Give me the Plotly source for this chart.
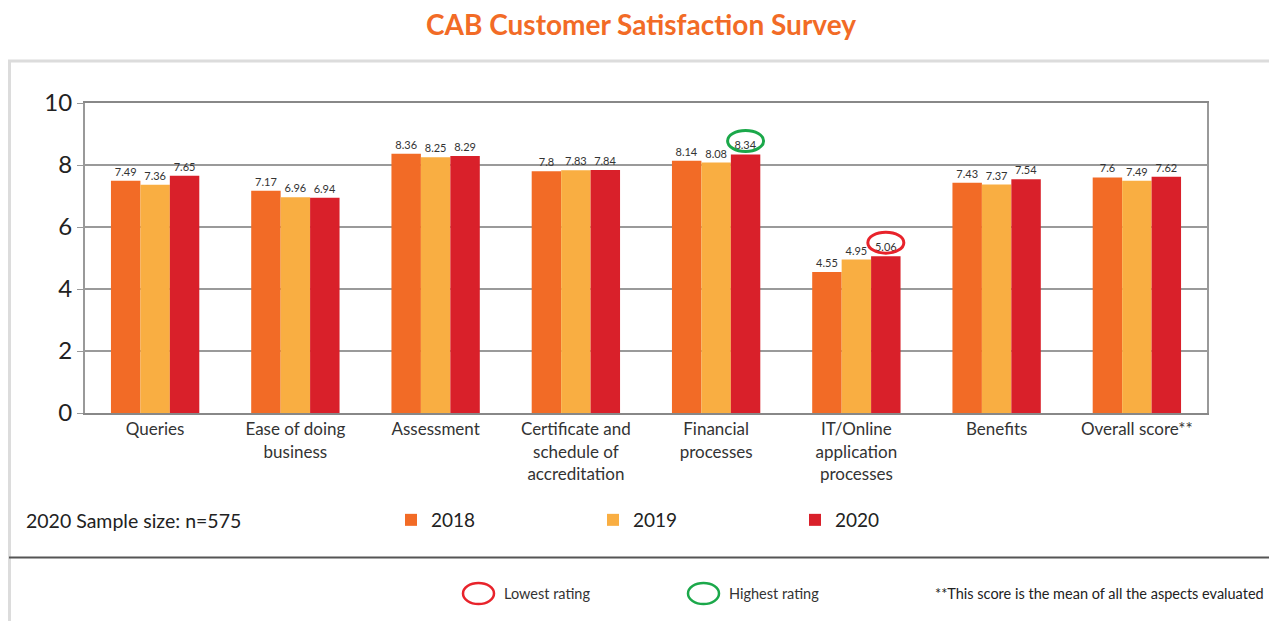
import plotly.graph_objects as go

categories = ["Queries", "Ease of doing<br>business", "Assessment",
              "Certificate and<br>schedule of<br>accreditation", "Financial<br>processes",
              "IT/Online<br>application<br>processes", "Benefits", "Overall score**"]
years = ["2018", "2019", "2020"]
v2018 = [7.49, 7.17, 8.36, 7.8, 8.14, 4.55, 7.43, 7.6]
v2019 = [7.36, 6.96, 8.25, 7.83, 8.08, 4.95, 7.37, 7.49]
v2020 = [7.65, 6.94, 8.29, 7.84, 8.34, 5.06, 7.54, 7.62]
colors = ["#F26B26", "#F9AE42", "#D9202A"]
y_ticks = [0, 2, 4, 6, 8, 10]

highest = (4, v2020[4])  # Financial processes, 2020
lowest = (5, v2020[5])   # IT/Online, 2020

FONT = "Lato"
OFF = 8  # page body margin
W, H = 1277 - OFF, 621 - OFF
L, T = 85 - OFF, 103 - OFF
PB = 413 - OFF  # plot bottom in figure px
PR = 1207 - OFF
R, B = W - PR, H - PB
plot_h = PB - T
plot_w = PR - L


def py(pix_y):  # reference pixel -> paper
    return (PB - (pix_y - OFF)) / plot_h


def px(pix_x):
    return ((pix_x - OFF) - L) / plot_w


fig = go.Figure()
for name, vals, c in zip(years, [v2018, v2019, v2020], colors):
    fig.add_trace(go.Bar(
        x=list(range(len(categories))), y=vals, name=name, marker_color=c,
        marker_line_width=0,
        text=[str(v) for v in vals], textposition="outside",
        textfont=dict(size=11, color="#333333", family=FONT),
        cliponaxis=False,
    ))

bargap = 0.37
bw = (1 - bargap) / 3

shapes = [
    dict(type="rect", xref="paper", yref="paper", x0=px(9.5), x1=px(1275.5), y0=py(650), y1=py(61),
         line=dict(color="#DCDCDC", width=3), fillcolor="rgba(0,0,0,0)", layer="below"),
    dict(type="line", xref="paper", yref="paper", x0=px(9), x1=px(1275), y0=py(557.5), y1=py(557.5),
         line=dict(color="#555555", width=2)),
    dict(type="circle", xref="paper", yref="paper", x0=px(463), x1=px(494), y0=py(604), y1=py(583),
         line=dict(color="#E8232B", width=2.5)),
    dict(type="circle", xref="paper", yref="paper", x0=px(688), x1=px(719), y0=py(604), y1=py(583),
         line=dict(color="#1BA84A", width=2.5)),
]
for (idx, val), col in [(highest, "#1BA84A"), (lowest, "#E8232B")]:
    shapes.append(dict(type="circle", xref="x", yref="y", xsizemode="pixel", ysizemode="pixel",
                       xanchor=idx + bw, yanchor=val, x0=-18, x1=18, y0=3, y1=24,
                       line=dict(color=col, width=3)))

ann = [
    dict(text="<b>CAB Customer Satisfaction Survey</b>", x=px(641), y=py(24),
         xanchor="center", font=dict(size=28, color="#F26B26", family=FONT)),
    dict(text="2020 Sample size: n=575", x=px(24), y=py(520),
         xanchor="left", font=dict(size=19.5, color="#222222", family=FONT)),
    dict(text="Lowest rating", x=px(502), y=py(593),
         xanchor="left", font=dict(size=14.5, color="#333333", family=FONT)),
    dict(text="Highest rating", x=px(727), y=py(593),
         xanchor="left", font=dict(size=14.5, color="#333333", family=FONT)),
    dict(text="**This score is the mean of all the aspects evaluated", x=px(1266), y=py(593),
         xanchor="right", font=dict(size=14.5, color="#222222", family=FONT)),
]
for a in ann:
    a.update(xref="paper", yref="paper", yanchor="middle", showarrow=False)

fig.update_layout(
    width=W, height=H,
    margin=dict(l=L, r=R, t=T, b=B, autoexpand=False),
    paper_bgcolor="white", plot_bgcolor="white",
    barmode="group", bargap=bargap, bargroupgap=0,
    font=dict(family=FONT, color="#222222"),
    showlegend=True,
    legend=dict(orientation="h", x=px(391), y=py(520), yanchor="middle", xanchor="left",
                entrywidth=157, entrywidthmode="pixels",
                font=dict(size=19, color="#222222", family=FONT), itemwidth=30,
                traceorder="normal"),
    shapes=shapes,
    annotations=ann,
)

fig.update_xaxes(tickvals=list(range(len(categories))), ticktext=categories,
                 range=[-0.5, len(categories) - 0.5], showline=True, linecolor="#888888",
                 linewidth=2, mirror=True, ticks="", tickfont=dict(size=17, color="#333333"),
                 showgrid=False)
fig.update_yaxes(range=[0, 10], tickvals=y_ticks, showline=True, linecolor="#999999",
                 linewidth=2, mirror=True, gridcolor="#9A9A9A", gridwidth=1.5,
                 ticks="outside", ticklen=6, tickcolor="#999999",
                 tickfont=dict(size=24, color="#222222"), zeroline=False)

fig.write_html("out.html")
